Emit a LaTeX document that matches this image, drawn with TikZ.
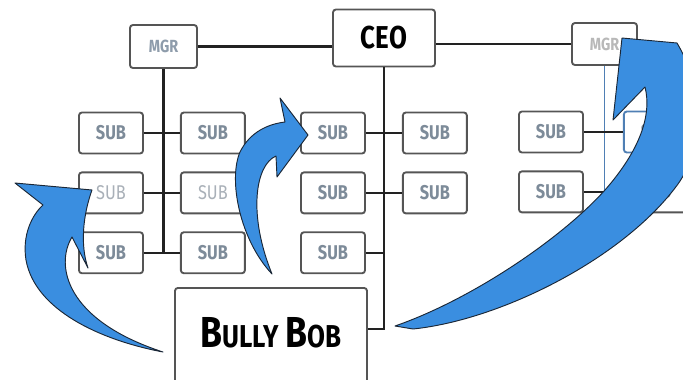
\documentclass[tikz,border=0pt]{standalone}
\usepackage{fontspec}
\newfontfamily\boxfont[FakeStretch=0.82]{Fira Sans}
\usetikzlibrary{positioning}

\definecolor{boxedge}{HTML}{555555}
\definecolor{subgray}{HTML}{7D8B99}
\definecolor{subfaint}{HTML}{A9B0B8}
\definecolor{mgrgray}{HTML}{8E9CAB}
\definecolor{mgrfaint}{HTML}{B8B8B8}
\definecolor{linegray}{HTML}{222222}
\definecolor{hiliteblue}{HTML}{4F7FB4}
\definecolor{arrowblue}{HTML}{3A8EE0}
\definecolor{arrowedge}{HTML}{1B2736}

\begin{document}
\begin{tikzpicture}[
        x=0.03cm, y=-0.03cm,
        node distance=0.51cm and 1.08cm,
        box/.style={
          draw=boxedge, line width=1.6pt, rounded corners=2.5pt, fill=white, inner sep=0pt
        },
        sub/.style={
          box, minimum width=1.92cm, minimum height=1.23cm, text=subgray,
          font=\boxfont\bfseries\fontsize{17}{17}\selectfont
        },
        faint/.style={
          text=subfaint, font=\boxfont\fontsize{17}{17}\selectfont
        },
        mgr/.style={
          box, minimum width=2.01cm, minimum height=1.29cm, text=mgrgray,
          font=\boxfont\bfseries\fontsize{15}{15}\selectfont
        },
        tie/.style={line width=1.8pt, draw=linegray},
        hilite/.style={line width=1.5pt, draw=hiliteblue},
        bully/.style={fill=arrowblue, draw=arrowedge, line width=0.8pt, line join=round},
      ]
        \useasboundingbox (0,0) rectangle (683,379);

        % top row
        \node [box, minimum width=3.06cm, minimum height=1.71cm,
               font=\boxfont\bfseries\fontsize{27}{27}\selectfont] (ceo) at (384,38) {CEO};
        \node [mgr] (mgr_left) at (163.5,46.5) {MGR};
        \node [mgr, text=mgrfaint, minimum width=1.95cm, minimum height=1.26cm] (mgr_right) at (604.5,44) {MGR};

        % Subs left group
        \node [sub] (sub_a1) at (111,133) {SUB};
        \node [sub, right=of sub_a1] (sub_b1) {SUB};
        \node [sub, faint, below=of sub_a1] (sub_a2) {SUB};
        \node [sub, faint, below=of sub_b1] (sub_b2) {SUB};
        \node [sub, below=of sub_a2] (sub_a3) {SUB};
        \node [sub, below=of sub_b2] (sub_b3) {SUB};

        % Subs center group
        \node [sub] (sub_c1) at (333,133) {SUB};
        \node [sub, right=of sub_c1] (sub_d1) {SUB};
        \node [sub, below=of sub_c1] (sub_c2) {SUB};
        \node [sub, below=of sub_d1] (sub_d2) {SUB};
        \node [sub, below=of sub_c2] (sub_c3) {SUB};

        % Subs right group
        \node [sub] (sub_e1) at (551,132) {SUB};
        \node [sub, draw=hiliteblue, right=1.17cm of sub_e1] (sub_f1) {SUB};
        \node [sub, below=of sub_e1] (sub_e2) {SUB};
        \node [sub, below=of sub_f1] (sub_f2) {SUB};

        % the bully
        \node [box, anchor=north, minimum width=5.76cm, text height=1.8cm, text depth=1.5cm,
               font=\boxfont\bfseries\fontsize{27}{27}\selectfont] (bully_bob) at (271,287)
              {{\fontsize{37}{37}\selectfont B}ULLY {\fontsize{37}{37}\selectfont B}OB};

        % reporting lines
        \draw [tie] (mgr_left.east) -- (mgr_left.east -| ceo.west);
        \draw [tie] (ceo.east |- mgr_right.west) -- (mgr_right.west);
        \draw [tie] (mgr_left.south) -- (mgr_left.south |- sub_a3.east);
        \foreach \r in {1,2,3}
          \draw [tie] (sub_a\r.east) -- (sub_b\r.west);
        \draw [tie] (ceo.south) |- ([yshift=0.42cm]bully_bob.east);
        \foreach \r in {1,2}
          \draw [tie] (sub_c\r.east) -- (sub_d\r.west);
        \draw [tie] (sub_c3.east) -- (sub_c3.east -| ceo.south);
        \draw [hilite] (mgr_right.south) -- (mgr_right.south |- sub_e2.east);
        \foreach \r in {1,2}
          \draw [tie] (sub_e\r.east) -- (sub_f\r.west);

        % Arrows
        \draw [bully] (163,352) .. controls (100,340) and (35,310) .. (26,260)
          .. controls (22,235) and (32,215) .. (43,205)
          -- (15,183) -- (92,190)
          .. controls (83,215) and (80,245) .. (88,268)
          -- (72,237)
          .. controls (55,265) and (65,320) .. (163,352) -- cycle;
        \draw [bully] (272,274) .. controls (240,240) and (228,180) .. (240,152)
          .. controls (250,132) and (268,124) .. (285,122)
          -- (280,98) -- (308,135) -- (277,177) -- (276,156)
          .. controls (255,165) and (248,215) .. (272,274) -- cycle;
        \draw [bully] (395,326) .. controls (470,300) and (560,240) .. (605,190)
          .. controls (640,150) and (652,115) .. (645,87)
          -- (613,120) -- (622,38) -- (677,43)
          .. controls (705,90) and (705,150) .. (675,188)
          .. controls (620,260) and (500,320) .. (413,329) -- cycle;

      \end{tikzpicture}
\end{document}
